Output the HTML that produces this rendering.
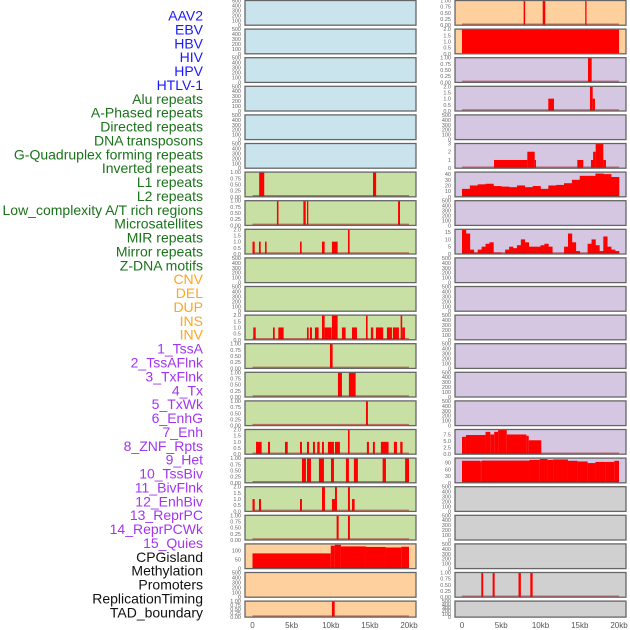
<!DOCTYPE html>
<html><head><meta charset="utf-8"><style>
body{margin:0;background:#fff;width:630px;height:630px;overflow:hidden}
svg{display:block;font-family:"Liberation Sans",sans-serif}
</style></head><body>
<svg id="chart" width="630" height="630" viewBox="0 0 630 630" xmlns="http://www.w3.org/2000/svg"></svg>
<script>
// ---- data ----
const trackLabels = ["AAV2","EBV","HBV","HIV","HPV","HTLV-1","Alu repeats","A-Phased repeats","Directed repeats","DNA transposons","G-Quadruplex forming repeats","Inverted repeats","L1 repeats","L2 repeats","Low_complexity A/T rich regions","Microsatellites","MIR repeats","Mirror repeats","Z-DNA motifs","CNV","DEL","DUP","INS","INV","1_TssA","2_TssAFlnk","3_TxFlnk","4_Tx","5_TxWk","6_EnhG","7_Enh","8_ZNF_Rpts","9_Het","10_TssBiv","11_BivFlnk","12_EnhBiv","13_ReprPC","14_ReprPCWk","15_Quies","CPGisland","Methylation","Promoters","ReplicationTiming","TAD_boundary"];
const labelColors = ["#1a1aff","#1a1aff","#1a1aff","#1a1aff","#1a1aff","#1a1aff","#1a731a","#1a731a","#1a731a","#1a731a","#1a731a","#1a731a","#1a731a","#1a731a","#1a731a","#1a731a","#1a731a","#1a731a","#1a731a","#ffa520","#ffa520","#ffa520","#ffa520","#ffa520","#a335f0","#a335f0","#a335f0","#a335f0","#a335f0","#a335f0","#a335f0","#a335f0","#a335f0","#a335f0","#a335f0","#a335f0","#a335f0","#a335f0","#a335f0","#111","#111","#111","#111","#111"];
const xTickValues = [0,5,10,15,20];
const xTickLabels = ["0","5kb","10kb","15kb","20kb"];
// left column y-max per row
const leftYMax = [500,500,500,500,500,500,1,1,2,500,500,2,1,1,1,2,1,2,1,138,500,1];
const rightYMax = [1,2,1,2,500,3,43.6,500,16.9,500,500,500,500,500,500,9.4,110,500,500,500,1,500];
// tick sets
const ticks500 = [0,100,200,300,400,500];
const ticks1 = [0,0.25,0.5,0.75,1];
const ticks2 = [0,0.5,1,1.5,2];
const ticks3 = [0,1,2,3];
const ticks40 = [0,10,20,30,40];
const ticks15 = [0,5,10,15];
const ticks75 = [0,2.5,5,7.5];
const ticks90 = [0,30,60,90];
const ticksCpg = [0,50,100];
// bar data [startKb, endKb, value]
const L6 = [[0.85,1.5,1],[15.4,15.8,1]];
const L7 = [[3.12,3.32,1],[6.5,6.8,1],[6.96,7.13,1],[18.6,18.85,1]];
const L8 = [[0,0.28,1],[0.83,1.05,1],[1.6,1.8,1],[6.07,6.28,1],[8.88,9.22,1],[10.15,10.88,1],[12.2,12.41,2]];
const L11 = [[0.1,0.41,1],[2.62,2.84,1],[3.3,3.98,1],[6.96,7.18,1],[7.34,7.6,1],[7.98,8.45,1],[8.88,9.22,2],[9.22,10.11,1],[10.15,10.88,2],[11.43,11.9,1],[12.71,13.35,1],[14.5,14.71,2],[15.13,15.43,1],[15.77,16.7,1],[17.18,17.82,1],[17.94,18.71,1],[18.93,19.13,2],[19.13,19.48,1]];
const L12 = [[9.9,10.24,1]];
const L13 = [[10.92,11.43,1],[12.32,13.18,1]];
const L14 = [[14.5,14.75,1]];
const L15 = [[0.45,1.17,1],[1.98,2.24,1],[4.15,4.5,1],[6.07,6.32,1],[6.96,7.22,1],[7.73,7.98,1],[8.28,8.58,1],[8.88,9.13,1],[9.64,10.41,1],[10.54,11.17,1],[12.2,12.41,2],[14.62,14.88,1],[15.39,15.64,1],[16.41,17.39,1],[18.07,18.46,1],[18.88,19.18,1]];
const L16 = [[6.32,6.83,1],[6.96,7.47,1],[8.49,9.13,1],[10.03,10.41,1],[11.94,12.32,1],[12.96,13.47,1],[16.63,17.05,1],[19.5,20.0,1]];
const L17 = [[0,0.28,1],[0.83,1.09,1],[6.07,6.32,1],[8.88,9.26,2],[10.15,10.79,1],[10.54,10.79,2],[12.2,12.45,2],[12.71,13.05,1]];
const L18 = [[10.75,11.01,1],[12.2,12.45,1]];
const L19 = [[0,10,85],[10,10.5,128],[10.5,11.3,133],[11.3,14.5,124],[14.5,17,121],[17,19,118],[19,20,122]];
const L21 = [[10.15,10.5,1]];
const R0 = [[7.85,8.05,1],[10.28,10.61,1],[15.7,15.86,1]];
const R1 = [[0,20,2]];
const R2 = [[16.05,16.52,1]];
const R3 = [[10.99,11.72,1],[16.3,16.65,2],[16.65,16.94,1]];
const R5 = [[4.08,8.32,1],[8.32,9.26,2],[9.26,9.43,1],[14.69,15.45,1],[16.43,17.03,1],[16.7,17.03,2],[17.03,18,3],[18,18.34,1]];
const R6vals = [14,20,22,23,19,18,17,20,17,19,14,20,21,24,30,37,37,41,40,35];
const R8vals = [17,14,3,1,3,5,7,8,1,1,0,3,5,4,6,10,8,5,5,5,6,7,5,0,0,0,5,14,8,2,0,0,7,10,6,2,12,5,3,2];
const R15 = [[0,0.5,6.6],[0.5,3,7.3],[3,3.6,8.5],[3.6,4.1,7.5],[4.1,4.6,8.5],[4.6,5.7,9.4],[5.7,8.2,7.5],[8.2,8.5,7],[8.5,10.1,5.3]];
const R16 = [[0,2.3,98],[2.3,2.5,96],[2.5,8.6,99],[8.6,9.9,102],[9.9,10.9,106],[10.9,11.6,102],[11.6,13.5,104],[13.5,14.7,98],[14.7,16,95],[16,17,88],[17,18.3,93],[18.3,19.4,93],[19.4,20,98]];
const R20 = [[2.46,2.7,1],[3.9,4.16,1],[7.2,7.5,1],[8.7,9.0,1]];

const leftBars = {6:L6,7:L7,8:L8,11:L11,12:L12,13:L13,14:L14,15:L15,16:L16,17:L17,18:L18,19:L19,21:L21};
const rightBars = {0:R0,1:R1,2:R2,3:R3,5:R5,15:R15,16:R16,20:R20};
const leftBg = i => i<6 ? "#c9e4ec" : (i<19 ? "#c8e0a4" : "#fdd09e");
const rightBg = i => i<2 ? "#fdd09e" : (i<17 ? "#d5c6e2" : "#d0d0d0");

// ---- geometry ----
const NS="http://www.w3.org/2000/svg";
const svg=document.getElementById('chart');
function el(t,a){const e=document.createElementNS(NS,t);for(const k in a)e.setAttribute(k,a[k]);return e;}
const cols=[{x0:245,x1:416,d0:252.5,d1:409},{x0:455,x1:626,d0:462,d1:619}];
const rowTop=i=>0.5+i*28.6;
const rowH=i=>i===21?16:24.7;
function ticksFor(ymax){
  if(ymax===500) return ticks500;
  if(ymax===1) return ticks1;
  if(ymax===2) return ticks2;
  if(ymax===3) return ticks3;
  if(ymax===43.6) return ticks40;
  if(ymax===16.9) return ticks15;
  if(ymax===9.4) return ticks75;
  if(ymax===110) return ticks90;
  return ticksCpg;
}
function fmt(v,ymax){
  if(ymax===1) return v.toFixed(2);
  if(ymax===2) return v.toFixed(1);
  if(ymax===9.4) return v.toFixed(1);
  return String(v);
}

// labels
trackLabels.forEach((t,i)=>{
  const e=el('text',{x:203,y:15.5+i*13.88+5,'text-anchor':'end','font-size':'14',fill:labelColors[i]});
  e.textContent=t;
  
  
  svg.appendChild(e);
});

function drawPanel(ci,i,ymax,bg,bars,profile){
  const c=cols[ci];const top=rowTop(i),h=rowH(i);
  const xs=kb=>c.d0+(c.d1-c.d0)*kb/20;
  const ys=v=>top+h-h*Math.min(v,ymax)/ymax;
  const g=el('g',{});
  
  
  g.appendChild(el('rect',{x:c.x0,y:top,width:c.x1-c.x0,height:h,fill:bg}));
  if(bars){
    bars.forEach(b=>{
      const r=el('rect',{x:xs(b[0]),y:ys(b[2]),width:Math.max(1.3,xs(b[1])-xs(b[0])),height:ys(0)-ys(b[2]),fill:'#ff0000'});
      
      
      g.appendChild(r);
    });
  }
  if(profile){
    const step=20/profile.length;
    profile.forEach((v,k)=>{
      const r=el('rect',{x:xs(k*step),y:ys(v),width:xs((k+1)*step)-xs(k*step)+0.3,height:ys(0)-ys(v),fill:'#ff0000'});
      
      
      g.appendChild(r);
    });
  }
  if(ymax!==500 && !(ci===1&&i===1)){
    g.appendChild(el('line',{x1:xs(0),x2:xs(20),y1:top+h-1,y2:top+h-1,stroke:'rgba(170,20,20,0.55)','stroke-width':1.5}));
  }
  g.appendChild(el('rect',{x:c.x0,y:top,width:c.x1-c.x0,height:h,fill:'none',stroke:'#666','stroke-width':1.3}));
  // y ticks
  const tk=ticksFor(ymax);
  tk.forEach(v=>{
    const t=el('text',{x:c.x0-4,y:ys(v)+2,'text-anchor':'end','font-size':'5.5',fill:'#666'});
    t.textContent=fmt(v,ymax);
    
    
    g.appendChild(t);
  });
  svg.appendChild(g);
}
for(let i=0;i<22;i++){
  drawPanel(0,i,leftYMax[i],leftBg(i),leftBars[i],null);
  let prof=null;
  if(i===6) prof=R6vals;
  if(i===8) prof=R8vals;
  drawPanel(1,i,rightYMax[i],rightBg(i),rightBars[i],prof);
}
// x ticks
cols.forEach((c,ci)=>{
  xTickValues.forEach((v,k)=>{
    const t=el('text',{x:c.d0+(c.d1-c.d0)*v/20,y:628,'text-anchor':'middle','font-size':'8',fill:'#555'});
    t.textContent=xTickLabels[k];
    
    
    svg.appendChild(t);
  });
});
</script>
</body></html>
